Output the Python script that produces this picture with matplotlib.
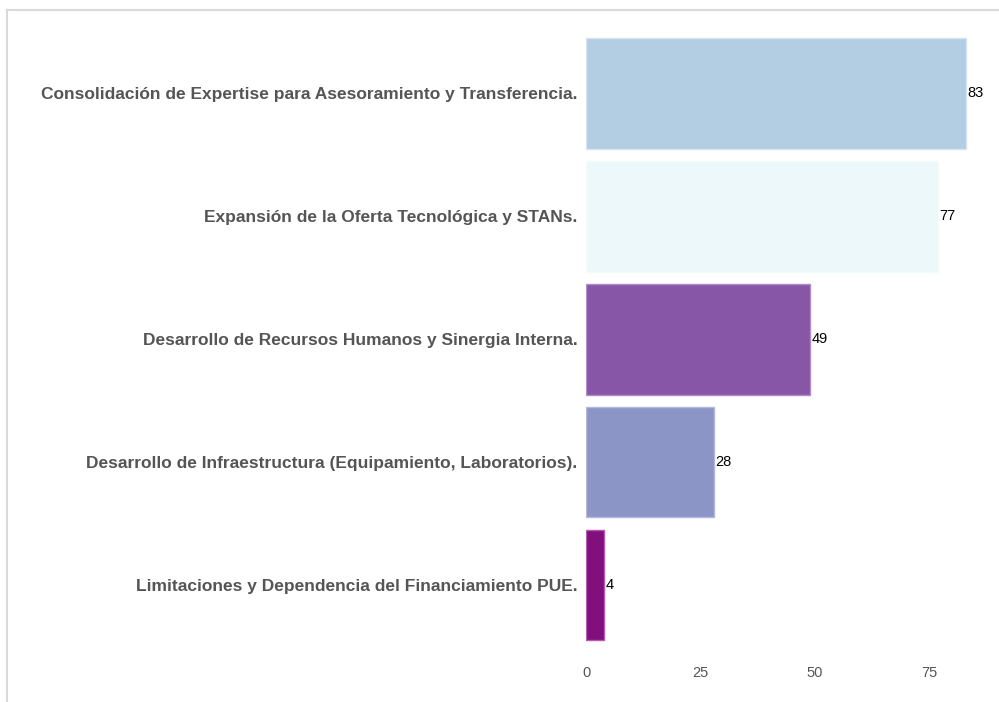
import matplotlib
matplotlib.use("Agg")
import matplotlib.pyplot as plt
from matplotlib.lines import Line2D

categorias = [
    "Consolidación de Expertise para Asesoramiento y Transferencia.",
    "Expansión de la Oferta Tecnológica y STANs.",
    "Desarrollo de Recursos Humanos y Sinergia Interna.",
    "Desarrollo de Infraestructura (Equipamiento, Laboratorios).",
    "Limitaciones y Dependencia del Financiamiento PUE.",
]
valores = [83, 77, 49, 28, 4]
colores = ["#b3cde3", "#edf8fb", "#8856a7", "#8c96c6", "#810f7c"]
bordes = ["#d6e4f0", "#f4fbfd", "#b08cc8", "#b3b9dd", "#b35aae"]

plt.rcParams['font.family'] = ['Liberation Sans', 'DejaVu Sans']

fig = plt.figure(figsize=(9.99, 7.02), dpi=100)
ax = fig.add_axes([0.5866, 0.0790, 0.3984, 0.8754])

pos = list(range(len(categorias)))
ax.barh(pos, valores, height=0.9, color=colores, edgecolor=bordes, linewidth=1)
ax.set_ylim(len(categorias) - 0.5, -0.5)
ax.set_xlim(0, 87)

for p, v in zip(pos, valores):
    ax.text(v + 0.3, p, str(v), va='center', ha='left', fontsize=10.5, color='black')

ax.set_yticks(pos)
ax.set_yticklabels(categorias, fontsize=12.5, fontweight='bold', color='#555555')
ax.set_xticks([0, 25, 50, 75])
ax.tick_params(axis='x', length=0, labelsize=10.5, labelcolor='#555555', pad=14)
ax.tick_params(axis='y', length=0, pad=6)
for s in ax.spines.values():
    s.set_visible(False)

# marco gris de la imagen
fig.add_artist(Line2D([0.007, 0.007], [0, 0.986], color='#d9d9d9', lw=1.5, transform=fig.transFigure))
fig.add_artist(Line2D([0.007, 1.0], [0.986, 0.986], color='#d9d9d9', lw=1.5, transform=fig.transFigure))

plt.savefig('out.png', dpi=100)
